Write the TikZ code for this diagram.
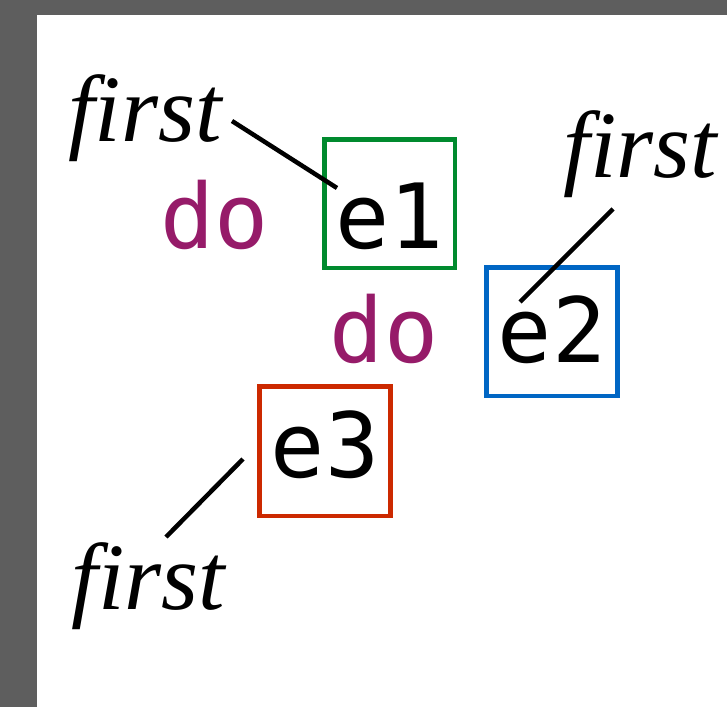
\documentclass[tikz,border=0pt]{standalone}
\usepackage{fontspec}
\newfontfamily\monofont{DejaVu Sans Mono}
\newfontfamily\serifit{Liberation Serif}[ItalicFont={Liberation Serif Italic}]
\definecolor{framegray}{RGB}{94,94,94}
\definecolor{dopurple}{RGB}{150,27,105}
\definecolor{boxgreen}{RGB}{0,138,46}
\definecolor{boxblue}{RGB}{0,102,196}
\definecolor{boxred}{RGB}{204,41,0}
\begin{document}
\begin{tikzpicture}[x=1pt,y=-1pt,
  etext/.style={font=\monofont\fontsize{90}{90}\selectfont, text=black},
  ebox/.style={etext, draw, line width=4.5pt, minimum width=131pt, minimum height=128.5pt,
    inner sep=0pt, text depth=0pt},
  kw/.style={font=\monofont\fontsize{90}{90}\selectfont, text=dopurple, anchor=base, inner sep=0pt},
  lbl/.style={font=\serifit\itshape\fontsize{95}{95}\selectfont, anchor=base, inner sep=0pt},
  lead/.style={draw=black, line width=4.5pt}]
\useasboundingbox (0,0) rectangle (727,707);
\fill[framegray] (0,0) rectangle (727,707);
\fill[white] (37,15) rectangle (727,707);
% boxes
\node[ebox, draw=boxgreen, minimum width=130.5pt, text height=89pt] (e1) at (389.5,203.5) {e1};
\node[ebox, draw=boxblue, text height=61pt] (e2) at (552,331.5) {e2};
\node[ebox, draw=boxred, minimum height=129.5pt, text height=52pt] (e3) at (325,451) {e3};
% keywords
\node[kw] (do1) at (215,248) {do};
\node[kw] (do2) at (384,362) {do};
% labels
\node[lbl] (f1) at (145,141) {first};
\node[lbl] (f2) at (640.5,177) {first};
\node[lbl] (f3) at (148.5,609) {first};
% leader ends
\coordinate (a1) at (232,121);
\coordinate (b1) at (337,188);
\coordinate (a2) at (613,209);
\coordinate (b2) at (520,302);
\coordinate (a3) at (166,537);
\coordinate (b3) at (243,459);
\draw[lead] (a1) -- (b1);
\draw[lead] (a2) -- (b2);
\draw[lead] (a3) -- (b3);
\end{tikzpicture}
\end{document}
